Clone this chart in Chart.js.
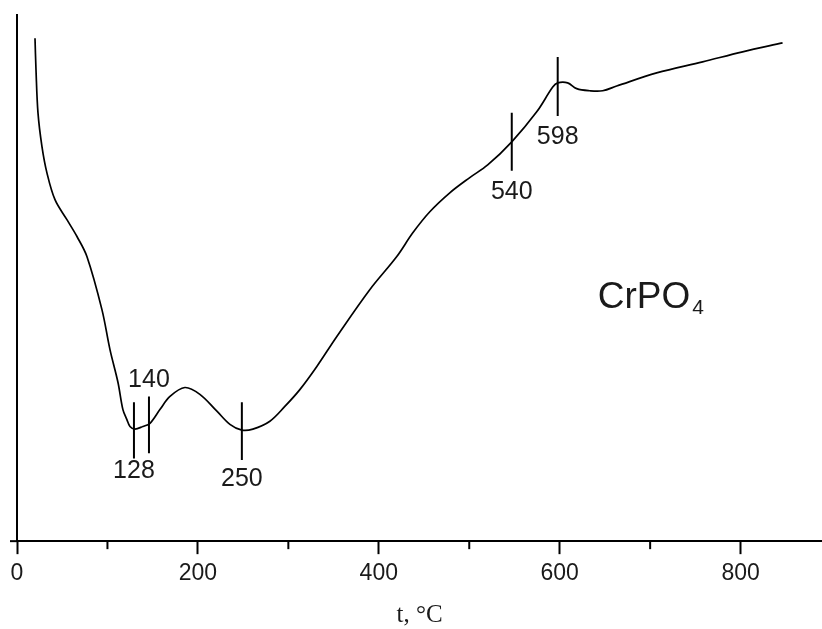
<!DOCTYPE html>
<html>
<head>
<meta charset="utf-8">
<script src="https://cdn.jsdelivr.net/npm/chart.js@4.4.1/dist/chart.umd.min.js"></script>
<style>
  html, body { margin: 0; padding: 0; background: #fff; }
  #wrap { width: 822px; height: 629px; }
</style>
</head>
<body>
<div id="wrap"><canvas id="c" width="822" height="629"></canvas></div>
<script>
// Temperature (°C) and signal (arbitrary units, 0..100)
const temps = [19.9, 21.0, 23.2, 27.6, 33.1, 42.0, 55.2, 66.3, 77.3, 93.9, 102.8, 111.6, 117.1, 121.5, 124.9, 130.4, 139.2, 147.0, 158.0, 169.1, 185.6, 202.2, 221.0, 235.4, 248.6, 260.8, 279.6, 296.1, 312.7, 331.5, 353.6, 390.0, 419.9, 437.6, 456.4, 478.5, 500.6, 520.4, 547.0, 574.6, 592.3, 597.8, 608.8, 618.8, 633.1, 647.5, 663.0, 707.2, 758.0, 802.2, 846.4];
const signal = [95.6, 89.6, 81.4, 75.0, 70.0, 64.9, 61.1, 57.9, 54.1, 44.0, 36.4, 30.2, 25.0, 23.1, 21.8, 21.3, 21.8, 22.4, 25.0, 27.5, 29.2, 27.9, 24.7, 22.2, 21.1, 21.3, 22.8, 25.6, 28.8, 33.2, 38.9, 47.8, 54.1, 58.6, 62.6, 66.2, 69.1, 71.5, 75.9, 81.6, 86.3, 87.1, 87.1, 86.0, 85.6, 85.6, 86.5, 89.0, 91.1, 93.0, 94.7];

// Marked temperatures
const markerT = [129.3, 145.9, 248.6, 547.0, 597.8];
const markerLabels = ['128', '140', '250', '540', '598'];
const markerTop = [26.4, 27.5, 26.4, 81.4, 92.0];
const markerBottom = [15.7, 16.7, 15.4, 70.4, 80.8];
const markerLabelY = [13.3, 30.7, 11.8, 66.4, 76.7];

const xMajorTicks = [0, 200, 400, 600, 800];
const xMinorTicks = [100, 300, 500, 700];
const compoundName = 'CrPO';
const compoundSub = '4';
const compoundPos = { x: 642, y: 44.4 };

const datasets = [{
  data: temps.map((t, i) => ({ x: t, y: signal[i] })),
  borderColor: '#000',
  borderWidth: 1.7,
  pointRadius: 0,
  tension: 0.35,
  fill: false
}];
markerT.forEach((t, i) => {
  datasets.push({
    data: [{ x: t, y: markerTop[i] }, { x: t, y: markerBottom[i] }],
    borderColor: '#000',
    borderWidth: 2,
    pointRadius: 0,
    tension: 0,
    fill: false
  });
});

const decor = {
  id: 'decor',
  afterDraw(chart) {
    const ctx = chart.ctx;
    const xs = chart.scales.x, ys = chart.scales.y;
    const axisY = ys.getPixelForValue(0);
    ctx.save();
    ctx.strokeStyle = '#000';
    ctx.lineWidth = 2;
    ctx.beginPath();
    ctx.moveTo(xs.left - 7, axisY);
    ctx.lineTo(xs.left, axisY);
    ctx.stroke();
    xMinorTicks.forEach(v => {
      const px = xs.getPixelForValue(v);
      ctx.beginPath();
      ctx.moveTo(px, axisY);
      ctx.lineTo(px, axisY + 8);
      ctx.stroke();
    });
    ctx.fillStyle = '#1a1a1a';
    ctx.font = '25px "Liberation Sans", Arial, sans-serif';
    ctx.textAlign = 'center';
    ctx.textBaseline = 'middle';
    markerT.forEach((t, i) => {
      ctx.fillText(markerLabels[i], xs.getPixelForValue(t), ys.getPixelForValue(markerLabelY[i]));
    });
    ctx.textAlign = 'left';
    ctx.textBaseline = 'alphabetic';
    ctx.font = '37px "Liberation Sans", Arial, sans-serif';
    const cx = xs.getPixelForValue(compoundPos.x);
    const cy = ys.getPixelForValue(compoundPos.y);
    ctx.fillText(compoundName, cx, cy);
    const w = ctx.measureText(compoundName).width;
    ctx.font = '21px "Liberation Sans", Arial, sans-serif';
    ctx.fillText(compoundSub, cx + w + 2, cy + 6);
    ctx.restore();
  }
};

new Chart(document.getElementById('c'), {
  type: 'line',
  data: { datasets },
  options: {
    responsive: false,
    animation: false,
    devicePixelRatio: 1,
    layout: { padding: { left: 9, top: 15, right: 0, bottom: 0 } },
    plugins: { legend: { display: false }, tooltip: { enabled: false } },
    scales: {
      x: {
        type: 'linear',
        min: 0,
        max: 890,
        afterBuildTicks: scale => {
          scale.ticks = xMajorTicks.map(v => ({ value: v }));
        },
        ticks: {
          autoSkip: false,
          maxRotation: 0,
          padding: 6,
          color: '#1a1a1a',
          font: { family: '"Liberation Sans", Arial, sans-serif', size: 23 },
          callback: v => String(v)
        },
        grid: {
          display: true,
          drawOnChartArea: false,
          drawTicks: true,
          tickLength: 13,
          tickWidth: 2,
          tickColor: '#000'
        },
        border: { display: true, color: '#000', width: 2 },
        title: {
          display: true,
          text: 't, °C',
          color: '#1a1a1a',
          font: { family: '"Liberation Serif", "Times New Roman", serif', size: 25, lineHeight: 1.05 },
          padding: { top: 9, bottom: 0 }
        }
      },
      y: {
        type: 'linear',
        min: 0,
        max: 100,
        ticks: { display: false },
        grid: { display: false },
        border: { display: true, color: '#000', width: 2 }
      }
    }
  },
  plugins: [decor]
});
</script>
</body>
</html>
